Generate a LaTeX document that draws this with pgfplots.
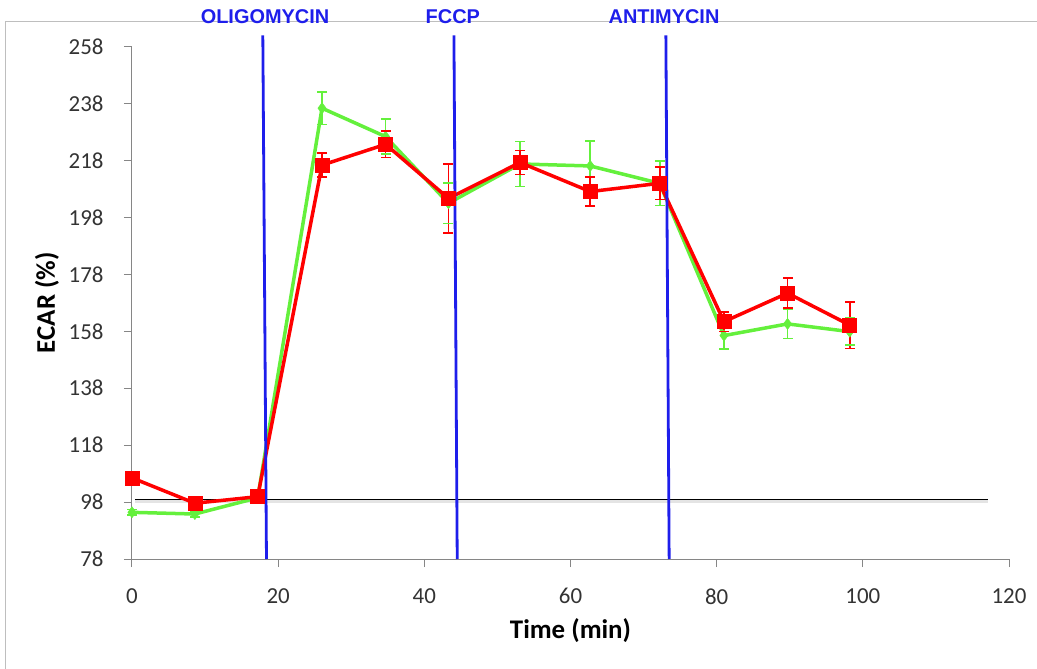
\documentclass[border=0pt]{standalone}
\usepackage{pgfplots}
\pgfplotsset{compat=1.18}
\usepackage{pgfplotstable}
\usepackage{fontspec}
\setmainfont{Carlito}
\newfontfamily\arialfont{Liberation Sans}
\definecolor{myred}{RGB}{255,0,0}
\definecolor{mygreen}{RGB}{100,240,60}
\definecolor{myblue}{RGB}{30,30,235}
\definecolor{axgray}{RGB}{134,134,134}
\definecolor{framegray}{RGB}{190,190,190}

\pgfplotstableread{
x y e
0 106.5 1
8.6 97.6 1
17.2 99.9 1
26.0 216.4 4.3
34.7 223.7 4.6
43.3 204.7 12.1
53.1 217.3 4.2
62.7 207.1 5.0
72.2 210.0 5.7
81.0 161.4 3.5
89.7 171.4 5.3
98.2 160.2 8.2
}\redtable

\pgfplotstableread{
x y e
0 94.4 1
8.6 93.8 1
17.2 99.5 1
26.0 236.4 5.7
34.7 226.4 6.1
43.3 203.0 7.1
53.1 216.8 7.9
62.7 216.1 8.8
72.2 210.0 7.8
81.0 156.5 4.8
89.7 160.6 5.1
98.2 157.9 4.7
}\greentable

\begin{document}
\begin{tikzpicture}
\path[use as bounding box] (-132bp,-110bp) rectangle (905bp,559bp);
\draw[framegray, line width=1bp] (-126bp,-110bp) -- (-126bp,537bp) -- (905bp,537bp);
\begin{axis}[
  at={(0,0)}, anchor=south west, scale only axis,
  width=877bp, height=512.3bp,
  xmin=0, xmax=120, ymin=78, ymax=258,
  xtick={0,20,...,120}, ytick={78,98,...,258},
  axis x line*=bottom, axis y line*=left,
  axis line style={axgray, line width=1bp, -},
  tick style={axgray, line width=1bp},
  tick align=outside, major tick length=8bp,
  minor tick num=0,
  clip=false,
  tick label style={font=\fontsize{23}{23}\selectfont, color=black!80},
  /pgf/number format/assume math mode=true,
  xticklabel style={yshift=-18bp},
  yticklabel style={xshift=-17bp},
  xlabel={Time (min)}, ylabel={ECAR (\%)},
  label style={font=\fontsize{27}{27}\selectfont\bfseries},
  xlabel style={at={(axis description cs:0.5,-0.14)}, anchor=center},
  ylabel style={at={(axis description cs:-0.0969,0.5)}, anchor=center},
]
% baseline with shadow
\addplot[black!30, line width=4bp, opacity=0.35, forget plot] coordinates {(0.4,98.3) (117.1,98.3)};
\addplot[black, line width=1bp, forget plot] coordinates {(0.4,99) (117.1,99)};

% green error bars
\addplot[mygreen, line width=1.7bp, quiver={u=0, v=2*\thisrow{e}}, forget plot]
  table[x=x, y expr=\thisrow{y}-\thisrow{e}] {\greentable};
\addplot[mygreen, only marks, mark=-, mark size=5bp, mark options={line width=1.7bp}, forget plot]
  table[x=x, y expr=\thisrow{y}+\thisrow{e}] {\greentable};
\addplot[mygreen, only marks, mark=-, mark size=5bp, mark options={line width=1.7bp}, forget plot]
  table[x=x, y expr=\thisrow{y}-\thisrow{e}] {\greentable};

% green series
\addplot[color=mygreen, line width=3.5bp, mark=diamond*, mark size=5.5bp,
  mark options={fill=mygreen, draw=mygreen, line width=0.5bp}]
  table[x=x, y=y] {\greentable};

% red error bars
\addplot[myred, line width=1.7bp, quiver={u=0, v=2*\thisrow{e}}, forget plot]
  table[x=x, y expr=\thisrow{y}-\thisrow{e}] {\redtable};
\addplot[myred, only marks, mark=-, mark size=5bp, mark options={line width=1.7bp}, forget plot]
  table[x=x, y expr=\thisrow{y}+\thisrow{e}] {\redtable};
\addplot[myred, only marks, mark=-, mark size=5bp, mark options={line width=1.7bp}, forget plot]
  table[x=x, y expr=\thisrow{y}-\thisrow{e}] {\redtable};

% red series
\addplot[color=myred, line width=3.5bp, mark=square*, mark size=7bp,
  mark options={fill=myred, draw=myred, line width=0.5bp}]
  table[x=x, y=y] {\redtable};

% injection lines
\addplot[myblue, line width=2.8bp, forget plot] coordinates {(17.9,262) (18.4,78)};
\addplot[myblue, line width=2.8bp, forget plot] coordinates {(44.05,262) (44.5,78)};
\addplot[myblue, line width=2.8bp, forget plot] coordinates {(73.05,262) (73.5,78)};

\node[font=\arialfont\bfseries\fontsize{20}{20}\selectfont, text=myblue] at (axis cs:18.2,268.7) {OLIGOMYCIN};
\node[font=\arialfont\bfseries\fontsize{20}{20}\selectfont, text=myblue] at (axis cs:43.9,268.7) {FCCP};
\node[font=\arialfont\bfseries\fontsize{20}{20}\selectfont, text=myblue] at (axis cs:72.8,268.7) {ANTIMYCIN};
\end{axis}
\end{tikzpicture}
\end{document}
